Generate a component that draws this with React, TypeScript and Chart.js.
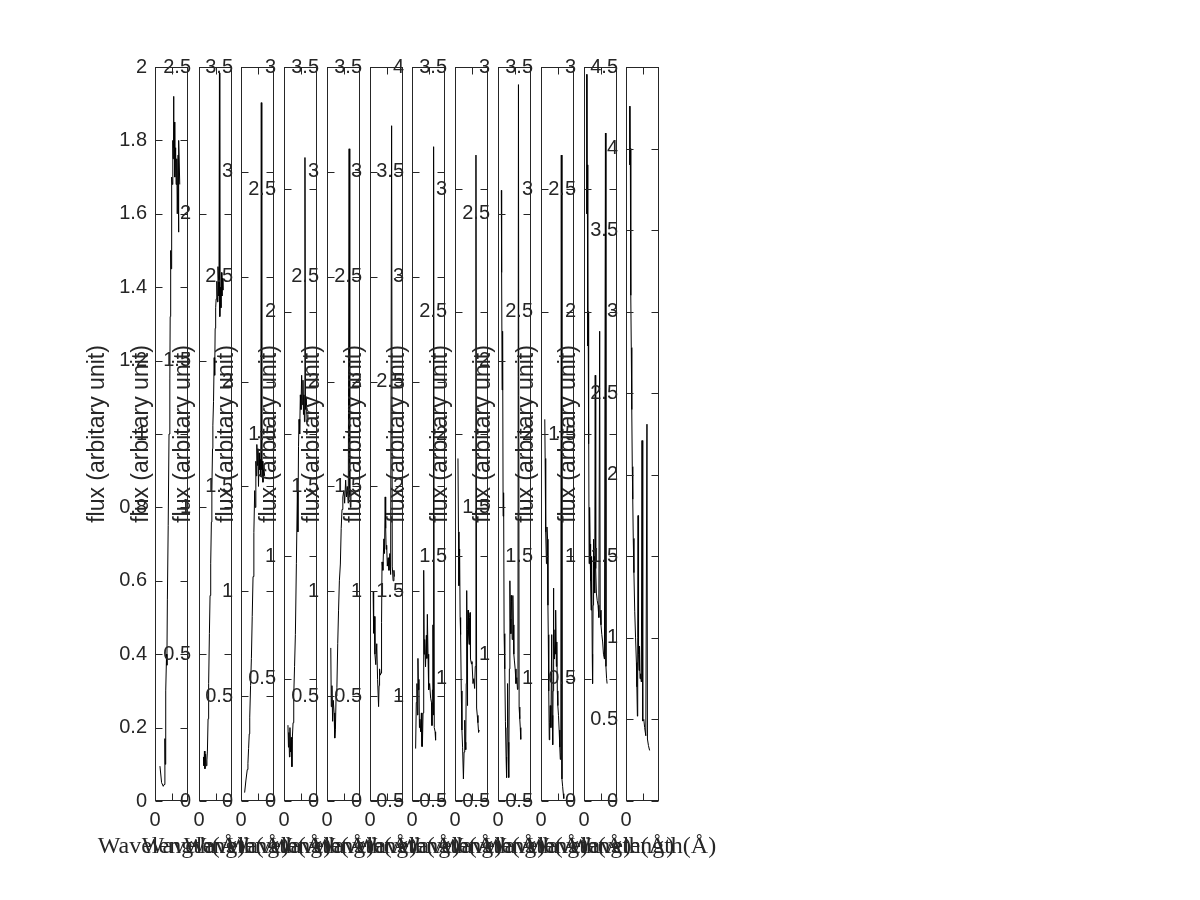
import React, { useEffect, useRef } from 'react';
import { Chart, registerables } from 'chart.js';

Chart.register(...registerables);

// ---- data (wavelength in axis units, flux) ----
const wave1 = [0.3, 0.4, 0.5, 0.55, 0.6, 0.62, 0.65, 0.7, 0.72, 0.75, 0.8, 0.85, 0.9, 0.92, 0.95, 0.98, 1.0, 1.02, 1.05, 1.08, 1.1, 1.12, 1.15, 1.18, 1.2, 1.25, 1.28, 1.32, 1.35, 1.4, 1.42, 1.45, 1.5];
const flux1 = [0.095, 0.05, 0.04, 0.045, 0.17, 0.1, 0.3, 0.4, 0.37, 0.55, 0.75, 1.0, 1.15, 1.32, 1.5, 1.45, 1.62, 1.7, 1.68, 1.8, 1.75, 1.92, 1.78, 1.85, 1.7, 1.78, 1.68, 1.75, 1.6, 1.76, 1.55, 1.8, 1.68];

const wave2 = [0.27, 0.3, 0.33, 0.36, 0.4, 0.44, 0.48, 0.51, 0.55, 0.57, 0.6, 0.63, 0.67, 0.71, 0.75, 0.78, 0.82, 0.84, 0.88, 0.92, 0.95, 0.98, 1.01, 1.04, 1.08, 1.12, 1.15, 1.18, 1.21, 1.24, 1.26, 1.29, 1.33, 1.36, 1.39, 1.42, 1.45];
const flux2 = [0.15, 0.12, 0.17, 0.11, 0.16, 0.12, 0.14, 0.17, 0.28, 0.35, 0.4, 0.57, 0.7, 0.81, 0.95, 1.06, 1.2, 1.28, 1.36, 1.51, 1.45, 1.61, 1.68, 1.71, 1.77, 1.7, 1.82, 1.78, 1.72, 2.48, 1.65, 1.75, 1.68, 1.8, 1.72, 1.78, 1.74];

const wave3 = [0.22, 0.3, 0.38, 0.42, 0.46, 0.5, 0.53, 0.58, 0.63, 0.68, 0.73, 0.78, 0.83, 0.86, 0.9, 0.93, 0.96, 1.0, 1.03, 1.06, 1.1, 1.13, 1.17, 1.2, 1.23, 1.26, 1.3, 1.33, 1.38, 1.43];
const flux3 = [0.04, 0.1, 0.15, 0.18, 0.25, 0.32, 0.4, 0.55, 0.68, 0.88, 1.07, 1.28, 1.48, 1.4, 1.62, 1.55, 1.7, 1.6, 1.68, 1.5, 1.66, 1.58, 1.63, 1.55, 3.33, 1.58, 1.62, 1.52, 1.6, 1.55];

const wave4 = [0.24, 0.27, 0.3, 0.33, 0.36, 0.4, 0.44, 0.48, 0.5, 0.55, 0.59, 0.64, 0.69, 0.75, 0.81, 0.84, 0.88, 0.91, 0.95, 0.99, 1.03, 1.07, 1.11, 1.15, 1.18, 1.21, 1.24, 1.27, 1.3, 1.35, 1.4, 1.45];
const flux4 = [0.31, 0.22, 0.28, 0.18, 0.3, 0.2, 0.26, 0.14, 0.25, 0.32, 0.43, 0.55, 0.68, 0.97, 1.27, 1.1, 1.45, 1.56, 1.5, 1.66, 1.6, 1.74, 1.62, 1.72, 1.58, 1.66, 1.55, 2.63, 1.6, 1.65, 1.55, 1.58];

const wave5 = [0.23, 0.26, 0.3, 0.34, 0.38, 0.43, 0.47, 0.51, 0.55, 0.6, 0.65, 0.7, 0.75, 0.81, 0.86, 0.91, 0.96, 1.02, 1.07, 1.13, 1.18, 1.23, 1.29, 1.34, 1.38, 1.42, 1.45];
const flux5 = [0.73, 0.45, 0.55, 0.38, 0.48, 0.42, 0.3, 0.34, 0.5, 0.54, 0.75, 0.91, 1.05, 1.13, 1.3, 1.39, 1.45, 1.48, 1.42, 1.53, 1.45, 1.5, 1.42, 3.11, 1.46, 1.4, 1.48];

const wave6 = [0.19, 0.22, 0.26, 0.3, 0.35, 0.41, 0.46, 0.52, 0.55, 0.58, 0.62, 0.67, 0.7, 0.73, 0.78, 0.84, 0.88, 0.92, 0.95, 0.98, 1.01, 1.05, 1.1, 1.15, 1.2, 1.25, 1.31, 1.35, 1.4, 1.45, 1.48];
const flux6 = [1.0, 0.8, 0.88, 0.7, 0.65, 0.75, 0.58, 0.45, 0.55, 0.63, 0.6, 0.61, 0.85, 1.14, 1.1, 1.25, 1.18, 1.45, 1.3, 1.2, 1.22, 1.12, 1.16, 1.1, 1.18, 1.08, 3.22, 1.12, 1.05, 1.1, 1.07];

const wave7 = [0.22, 0.26, 0.3, 0.33, 0.36, 0.39, 0.42, 0.45, 0.48, 0.52, 0.57, 0.6, 0.63, 0.67, 0.71, 0.74, 0.77, 0.82, 0.87, 0.9, 0.93, 0.97, 1.01, 1.07, 1.13, 1.18, 1.21, 1.24, 1.27, 1.29, 1.31, 1.35, 1.4, 1.43];
const flux7 = [0.75, 0.97, 1.06, 0.91, 1.18, 1.03, 1.08, 0.85, 0.89, 0.83, 0.92, 0.76, 0.76, 0.92, 1.6, 1.2, 1.27, 1.14, 1.29, 1.18, 1.39, 1.2, 1.03, 1.06, 0.99, 0.97, 0.86, 1.03, 1.34, 0.91, 3.62, 0.85, 0.83, 0.79];

const wave8 = [0.18, 0.21, 0.24, 0.28, 0.31, 0.34, 0.38, 0.42, 0.46, 0.51, 0.55, 0.59, 0.62, 0.65, 0.68, 0.71, 0.73, 0.75, 0.77, 0.79, 0.82, 0.85, 0.88, 0.91, 0.93, 0.95, 1.0, 1.03, 1.09, 1.14, 1.19, 1.23, 1.27, 1.31, 1.35, 1.39, 1.43, 1.47];
const flux8 = [1.9, 1.6, 1.38, 1.53, 1.25, 1.18, 0.95, 0.79, 0.72, 0.59, 0.7, 0.83, 0.74, 0.71, 0.98, 1.36, 1.15, 0.89, 1.2, 1.28, 1.18, 1.14, 1.25, 1.27, 1.16, 1.08, 1.06, 1.07, 0.98, 1.0, 0.96, 1.05, 3.14, 0.88, 0.85, 0.82, 0.78, 0.79];

const wave9 = [0.2, 0.22, 0.25, 0.28, 0.31, 0.34, 0.37, 0.41, 0.45, 0.49, 0.52, 0.55, 0.58, 0.61, 0.64, 0.66, 0.69, 0.72, 0.75, 0.78, 0.8, 0.82, 0.86, 0.9, 0.93, 0.96, 0.99, 1.04, 1.09, 1.14, 1.18, 1.21, 1.24, 1.28, 1.32, 1.35, 1.38];
const flux9 = [2.58, 2.3, 1.9, 2.1, 1.47, 1.55, 1.07, 0.95, 0.77, 0.65, 0.58, 0.75, 0.9, 0.7, 0.62, 0.58, 0.95, 1.25, 1.12, 1.07, 1.2, 1.18, 1.05, 1.2, 1.1, 1.0, 0.98, 0.95, 0.9, 0.92, 0.88, 0.95, 2.94, 0.82, 0.78, 0.75, 0.71];

const wave10 = [0.23, 0.25, 0.27, 0.3, 0.33, 0.36, 0.4, 0.42, 0.44, 0.47, 0.5, 0.53, 0.56, 0.6, 0.65, 0.68, 0.71, 0.73, 0.75, 0.78, 0.81, 0.85, 0.88, 0.9, 0.93, 0.96, 0.99, 1.02, 1.06, 1.1, 1.14, 1.17, 1.2, 1.23, 1.27, 1.31, 1.35, 1.38];
const flux10 = [2.06, 1.9, 1.77, 1.6, 1.47, 1.62, 1.57, 1.3, 1.18, 0.95, 0.75, 0.82, 0.89, 0.8, 1.18, 0.85, 0.73, 0.95, 1.37, 1.15, 1.08, 1.2, 1.1, 1.28, 1.05, 1.15, 0.95, 0.89, 0.85, 0.79, 0.72, 0.67, 0.7, 3.14, 0.59, 0.56, 0.53, 0.51];

const wave11 = [0.16, 0.18, 0.2, 0.23, 0.25, 0.27, 0.29, 0.31, 0.34, 0.37, 0.4, 0.43, 0.46, 0.5, 0.52, 0.55, 0.58, 0.61, 0.64, 0.66, 0.68, 0.71, 0.75, 0.8, 0.85, 0.9, 0.95, 0.98, 1.03, 1.08, 1.13, 1.18, 1.24, 1.3, 1.33, 1.37, 1.4];
const flux11 = [2.97, 2.4, 2.6, 1.86, 2.0, 1.46, 1.6, 0.97, 1.2, 1.05, 0.9, 0.78, 1.0, 0.6, 0.48, 0.8, 1.07, 0.9, 1.0, 0.85, 1.74, 0.95, 0.85, 0.82, 0.8, 0.75, 1.92, 0.78, 0.72, 0.68, 0.65, 0.6, 0.58, 2.73, 0.55, 0.5, 0.48];

const wave12 = [0.22, 0.24, 0.26, 0.28, 0.3, 0.32, 0.35, 0.38, 0.41, 0.44, 0.48, 0.53, 0.58, 0.63, 0.66, 0.69, 0.71, 0.73, 0.76, 0.79, 0.82, 0.85, 0.89, 0.93, 0.97, 1.0, 1.03, 1.08, 1.13, 1.2, 1.27, 1.3, 1.36, 1.43];
const flux12 = [4.26, 3.9, 4.0, 3.52, 3.1, 2.78, 2.4, 2.05, 1.85, 1.61, 1.4, 1.16, 1.0, 0.85, 0.7, 0.52, 1.0, 1.75, 0.9, 0.8, 0.95, 0.75, 0.78, 0.73, 2.21, 0.6, 0.49, 0.5, 0.45, 0.4, 2.31, 0.38, 0.34, 0.31];

// ---- axis limits / ticks ----
const yMin = [0, 0, 0, 0, 0, 0, 0.5, 0.5, 0.5, 0.5, 0, 0];
const yMax = [2, 2.5, 3.5, 3, 3.5, 3.5, 4, 3.5, 3, 3.5, 3, 4.5];
const yStep = [0.2, 0.5, 0.5, 0.5, 0.5, 0.5, 0.5, 0.5, 0.5, 0.5, 0.5, 0.5];
const xTicks = [0, 1];
const xTickLabels = ['0', ''];
const yTitle = 'flux (arbitary unit)';
const xTitle = 'Wavelength(Å)';

const waves = [wave1, wave2, wave3, wave4, wave5, wave6, wave7, wave8, wave9, wave10, wave11, wave12];
const fluxes = [flux1, flux2, flux3, flux4, flux5, flux6, flux7, flux8, flux9, flux10, flux11, flux12];

// ---- layout ----
const panelLeft = [155, 199, 241, 284, 327, 370, 412, 455, 498, 541, 584, 626];
const PANEL_W = 33;
const AREA_TOP = 67;
const AREA_BOTTOM = 801;
const Y_AXIS_W = 80;
const X_AXIS_H = 60;
const INK = '#262626';

const fmtTick = (v: any) => String(Number(Number(v).toFixed(3)));

const framePlugin = {
  id: 'matlabFrame',
  afterDraw(chart: any) {
    const { ctx, chartArea: a, scales } = chart;
    ctx.save();
    ctx.strokeStyle = INK;
    ctx.lineWidth = 1;
    const L = a.left + 0.5;
    const R = a.right - 0.5;
    const T = a.top + 0.5;
    const B = a.bottom - 0.5;
    ctx.strokeRect(L, T, R - L, B - T);
    const tl = 7;
    ctx.beginPath();
    scales.y.ticks.forEach((t: any) => {
      const y = Math.round(scales.y.getPixelForValue(t.value)) + 0.5;
      ctx.moveTo(L, y);
      ctx.lineTo(L + tl, y);
      ctx.moveTo(R, y);
      ctx.lineTo(R - tl, y);
    });
    scales.x.ticks.forEach((t: any) => {
      const x = Math.round(scales.x.getPixelForValue(t.value)) + 0.5;
      ctx.moveTo(x, B);
      ctx.lineTo(x, B - tl);
      ctx.moveTo(x, T);
      ctx.lineTo(x, T + tl);
    });
    ctx.stroke();
    // x-axis title (drawn manually to avoid width squashing)
    ctx.fillStyle = INK;
    ctx.font = '24px "Liberation Serif", serif';
    ctx.textAlign = 'center';
    ctx.textBaseline = 'middle';
    ctx.fillText(xTitle, (a.left + a.right) / 2, 847);
    ctx.restore();
  },
};

export default function App() {
  const refs = useRef<(HTMLCanvasElement | null)[]>([]);

  useEffect(() => {
    const charts = panelLeft.map((left, i) => {
      const cv = refs.current[i] as HTMLCanvasElement;
      return new Chart(cv, {
        type: 'line',
        data: {
          datasets: [
            {
              data: waves[i].map((x, j) => ({ x, y: fluxes[i][j] })),
              borderColor: '#000000',
              borderWidth: 1,
              pointRadius: 0,
              tension: 0,
              fill: false,
            },
          ],
        },
        options: {
          animation: false,
          responsive: false,
          devicePixelRatio: 1,
          events: [],
          layout: {
            padding: {
              left: left - Y_AXIS_W,
              right: 1200 - left - PANEL_W,
              top: AREA_TOP,
              bottom: 900 - AREA_BOTTOM - X_AXIS_H,
            },
          },
          plugins: {
            legend: { display: false },
            tooltip: { enabled: false },
            title: { display: false },
          },
          scales: {
            x: {
              type: 'linear',
              min: 0,
              max: 2,
              afterFit: (s: any) => {
                s.height = X_AXIS_H;
              },
              afterBuildTicks: (s: any) => {
                s.ticks = xTicks.map((v) => ({ value: v }));
              },
              grid: { display: false, drawTicks: false },
              border: { display: false },
              ticks: {
                autoSkip: false,
                maxRotation: 0,
                padding: 7,
                color: INK,
                font: { family: 'Liberation Sans', size: 20 },
                callback: (v: any) => {
                  const k = xTicks.indexOf(Number(v));
                  return k >= 0 ? xTickLabels[k] : '';
                },
              },
            },
            y: {
              type: 'linear',
              min: yMin[i],
              max: yMax[i],
              afterFit: (s: any) => {
                s.width = Y_AXIS_W;
              },
              grid: { display: false, drawTicks: false },
              border: { display: false },
              ticks: {
                stepSize: yStep[i],
                autoSkip: false,
                padding: 8,
                color: INK,
                font: { family: 'Liberation Sans', size: 20 },
                callback: fmtTick,
              },
              title: {
                display: true,
                text: yTitle,
                color: INK,
                font: { family: 'Liberation Sans', size: 23 },
                padding: { top: 9, bottom: 0 },
              },
            },
          },
        } as any,
        plugins: [framePlugin],
      });
    });
    return () => charts.forEach((c) => c.destroy());
  }, []);

  return (
    <div style={{ position: 'absolute', left: 0, top: 0, width: 1200, height: 900, background: '#ffffff' }}>
      {panelLeft.map((_, i) => (
        <canvas
          key={i}
          ref={(el) => {
            refs.current[i] = el;
          }}
          width={1200}
          height={900}
          style={{ position: 'absolute', left: 0, top: 0 }}
        />
      ))}
    </div>
  );
}
